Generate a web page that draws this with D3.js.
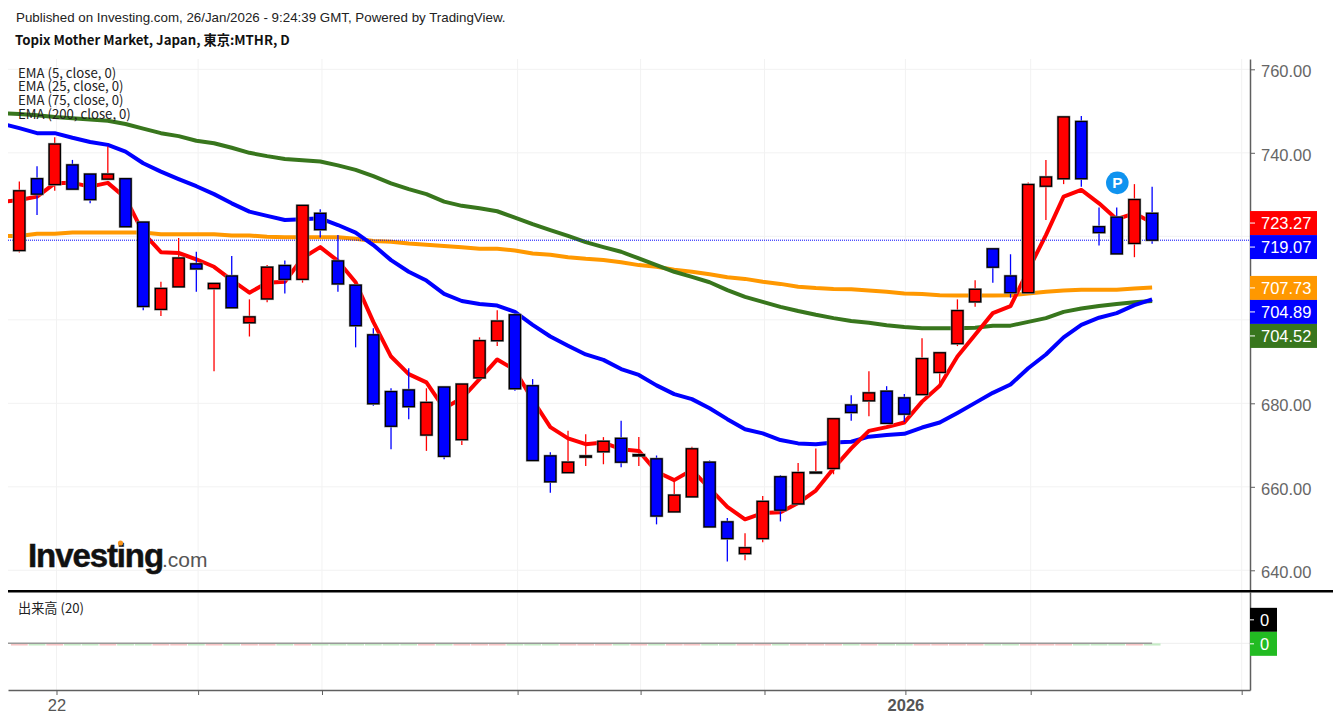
<!DOCTYPE html>
<html lang="en">
<head>
<meta charset="utf-8">
<script src="https://d3js.org/d3.v7.min.js"></script>
<style>
  body { margin: 0; background: #fff; }
  svg { display: block; }
  text { font-family: "Liberation Sans", Arial, sans-serif; }
  .cjk { font-family: "Noto Sans CJK JP", "Noto Sans", sans-serif; }
</style>
</head>
<body>
<div id="chart"></div>
<script>
// daily candles, oldest first
const opens = [716.6,733.8,732.4,737.1,734.9,733.7,733.8,723.4,702.5,707.9,713.4,707.5,710.5,699.3,705.0,713.0,709.7,725.5,714.1,708.3,696.4,682.8,683.2,672.4,683.9,671.3,686.1,695.0,701.2,684.2,667.4,663.4,667.1,668.4,671.6,667.4,666.7,654.0,657.6,665.9,651.6,644.0,647.6,662.4,655.9,663.3,664.4,679.6,680.6,682.9,681.3,682.1,687.4,694.3,704.3,717.0,710.5,706.5,732.0,733.8,747.5,722.3,724.6,718.3,725.5];
const highs = [733.1,736.8,743.7,738.3,735.1,741.5,733.8,723.4,709.1,719.6,716.3,708.7,715.3,704.9,713.1,714.2,727.4,726.5,720.3,708.3,698.0,683.6,688.4,683.6,684.1,684.7,695.8,702.3,701.2,685.8,668.3,673.4,672.6,671.9,675.8,671.9,667.5,661.2,669.6,666.3,652.5,648.9,657.8,662.8,665.7,669.2,676.3,681.9,687.7,684.1,682.2,695.6,692.1,704.9,709.5,717.1,715.7,732.9,738.3,748.6,748.8,726.9,726.9,732.5,731.9];
const lows = [716.1,725.1,730.9,731.3,727.9,733.7,722.3,702.3,700.9,707.9,706.7,687.7,702.9,696.0,704.2,706.3,708.9,719.7,706.7,693.4,679.4,669.0,676.2,668.6,666.6,670.0,686.1,693.7,683.0,666.3,658.6,663.4,665.0,665.4,664.7,665.0,651.0,654.0,657.6,650.4,642.1,642.4,646.7,651.7,655.9,663.3,663.0,675.8,676.9,675.2,675.5,682.1,684.4,693.7,703.1,708.9,705.3,706.5,723.9,732.5,731.9,717.8,715.8,715.0,718.2];
const closes = [730.9,730.1,742.1,731.3,728.8,734.9,722.3,703.2,707.5,714.8,712.2,708.7,702.9,700.7,712.6,709.7,727.4,721.6,708.6,698.6,679.9,674.5,679.2,680.2,667.3,684.6,695.0,699.7,683.5,666.3,661.2,665.9,667.4,670.9,665.9,667.7,653.0,658.0,669.1,650.4,647.6,645.4,656.5,654.4,663.4,663.5,676.3,677.8,682.5,675.2,677.4,690.7,692.1,702.2,707.3,712.6,706.5,732.4,734.2,748.6,733.8,720.9,715.8,728.8,719.07];

// EMA series start one bar before the first candle, they run off the left edge
const ema5 = [728.2,728.7,729.5,732.7,732.8,731.9,732.8,729.2,720.8,716.2,716.0,714.5,712.7,709.5,706.5,708.9,709.1,714.8,717.4,714.1,709.0,699.5,691.2,687.0,685.0,678.8,681.2,685.8,690.5,688.0,680.8,674.3,671.6,670.2,670.6,669.0,668.6,663.6,661.6,664.0,659.6,655.2,652.2,653.7,653.9,656.1,659.1,664.4,669.2,673.4,674.3,675.4,680.4,684.2,691.2,696.4,701.6,703.3,711.9,720.3,729.5,731.1,727.9,724.1,725.5,723.27];
const ema25 = [747.0,745.9,744.7,744.7,743.6,742.6,741.9,740.3,737.5,735.5,733.7,732.0,730.1,727.9,725.9,724.9,723.9,724.1,724.3,722.7,720.9,717.9,714.3,711.5,709.4,706.2,704.5,703.8,703.4,701.9,698.8,696.0,693.8,691.7,690.4,688.2,686.8,684.3,682.2,681.0,678.8,676.2,673.8,672.8,671.2,670.4,670.2,670.6,670.8,672.0,672.4,672.7,674.2,675.4,677.7,680.1,682.5,684.5,688.4,691.7,695.8,698.8,700.5,701.6,703.5,704.89];
const ema75 = [720.1,720.1,720.6,720.6,720.9,720.9,720.9,720.9,720.9,720.5,720.5,720.5,720.5,720.2,720.2,719.9,719.8,719.8,719.8,719.8,719.4,718.9,718.7,718.3,718.0,717.7,717.4,717.0,717.0,716.6,715.9,715.6,715.0,714.6,714.3,713.8,713.1,712.7,712.0,711.5,710.9,710.2,709.8,709.1,708.6,707.9,707.6,707.4,707.3,707.0,706.7,706.3,706.2,705.9,705.8,705.8,705.8,705.9,706.3,706.7,707.0,707.2,707.2,707.2,707.5,707.73];
const ema200 = [749.5,749.3,749.0,748.6,748.3,748.0,747.7,746.9,745.8,744.7,744.0,742.9,742.3,741.2,740.0,739.2,738.5,738.2,737.9,737.0,735.9,734.4,732.7,731.3,730.1,728.3,727.3,726.7,726.0,724.5,722.9,721.5,720.1,718.6,717.4,716.3,714.7,713.1,711.5,710.3,709.0,707.1,705.5,704.3,703.1,702.1,701.2,700.4,699.7,699.3,698.7,698.3,698.0,698.0,698.0,698.1,698.6,698.6,699.5,700.4,701.9,702.7,703.3,703.8,704.2,704.52];

// volume is reported as zero for this index, both the bars and its average
const volumes = [0,0,0,0,0,0,0,0,0,0,0,0,0,0,0,0,0,0,0,0,0,0,0,0,0,0,0,0,0,0,0,0,0,0,0,0,0,0,0,0,0,0,0,0,0,0,0,0,0,0,0,0,0,0,0,0,0,0,0,0,0,0,0,0,0];
const volumeAvg = [0,0,0,0,0,0,0,0,0,0,0,0,0,0,0,0,0,0,0,0,0,0,0,0,0,0,0,0,0,0,0,0,0,0,0,0,0,0,0,0,0,0,0,0,0,0,0,0,0,0,0,0,0,0,0,0,0,0,0,0,0,0,0,0,0,0];

const priceTicks = [640,660,680,700,720,740,760];
const priceTickLabels = ["640.00","660.00","680.00","","","740.00","760.00"]; // 700 and 720 sit behind the value boxes
const xTickBars = [2.1,10.1,17.1,28.15,35.1,42.1,50.06,57.14,69.06];
const xTickLabels = ["22","","","","","","2026","",""];
const legendLabels = ["EMA (5, close, 0)","EMA (25, close, 0)","EMA (75, close, 0)","EMA (200, close, 0)"];

const lastValues = [723.27,719.07,707.73,704.89,704.52];
const lastColors = ["#ff0000","#0000ff","#ff9800","#0000ff","#38761d"];
const lastPrice = 719.07;
const pivotBar = 62, pivotPrice = 732.8;

const svgWidth = 1333, svgHeight = 723;
const plotLeft = 8, plotRight = 1250, plotTop = 59, priceBottom = 590, volBottom = 690;

const svg = d3.select("#chart").append("svg").attr("width", svgWidth).attr("height", svgHeight);

const x = d3.scaleLinear().domain([-0.64, 69.53]).range([plotLeft, plotRight]);
const y = d3.scaleLinear().domain([635.28, 762.47]).range([priceBottom, plotTop]);
const yVol = d3.scaleLinear().domain([-1, 1.1]).range([volBottom, 592]);

svg.append("clipPath").attr("id", "plot").append("rect")
   .attr("x", plotLeft).attr("y", plotTop).attr("width", plotRight - plotLeft).attr("height", priceBottom - plotTop);
svg.append("clipPath").attr("id", "volplot").append("rect")
   .attr("x", plotLeft).attr("y", 592).attr("width", plotRight - plotLeft).attr("height", volBottom - 592);

// grid
const gridColor = "#f2f2f2";
svg.append("g").selectAll("line").data(xTickBars).enter().append("line")
   .attr("x1", d => x(d)).attr("x2", d => x(d)).attr("y1", plotTop).attr("y2", volBottom)
   .attr("stroke", gridColor);
svg.append("g").selectAll("line").data(priceTicks).enter().append("line")
   .attr("x1", plotLeft).attr("x2", plotRight).attr("y1", d => y(d)).attr("y2", d => y(d))
   .attr("stroke", gridColor);

// EMA lines, orange at the bottom and red on top
const emaLine = d3.line().x((d, i) => x(i - 1)).y(d => y(d));
const plot = svg.append("g").attr("clip-path", "url(#plot)");
[[ema75, "#ff9800"], [ema200, "#38761d"], [ema25, "#0000ff"], [ema5, "#ff0000"]].forEach(s => {
  plot.append("path").datum(s[0])
      .attr("d", emaLine).attr("fill", "none").attr("stroke", s[1])
      .attr("stroke-width", 4).attr("stroke-linejoin", "round");
});

// last price line
plot.append("line")
    .attr("x1", plotLeft).attr("x2", plotRight).attr("y1", y(lastPrice)).attr("y2", y(lastPrice))
    .attr("stroke", "#0000ff").attr("stroke-width", 1).attr("stroke-dasharray", "1 1");

// candles
const candles = plot.selectAll("g.candle").data(d3.range(closes.length)).enter()
  .append("g").attr("class", "candle");
const candleColor = i => closes[i] >= opens[i] ? "#ff0000" : "#0000ff";
const bodyTop = i => y(Math.max(opens[i], closes[i]));
const bodyHeight = i => Math.abs(y(opens[i]) - y(closes[i]));

candles.append("line")
  .attr("x1", i => x(i)).attr("x2", i => x(i))
  .attr("y1", i => y(highs[i])).attr("y2", i => y(lows[i]))
  .attr("stroke", candleColor).attr("stroke-width", 1.3);
candles.append("rect")
  .attr("x", i => x(i) - 5.6).attr("width", 11.2)
  .attr("y", bodyTop).attr("height", bodyHeight)
  .attr("fill", "none").attr("stroke", "#999").attr("stroke-width", 2.4);
candles.append("rect")
  .attr("x", i => x(i) - 5.6).attr("width", 11.2)
  .attr("y", bodyTop).attr("height", bodyHeight)
  .attr("fill", candleColor).attr("stroke", "#000").attr("stroke-width", 1.3);

// pivot marker
svg.append("circle").attr("cx", x(pivotBar) + 0.6).attr("cy", y(pivotPrice)).attr("r", 11.3).attr("fill", "#0f93ef");
svg.append("text").attr("x", x(pivotBar) + 0.6).attr("y", y(pivotPrice) + 5.5)
   .attr("text-anchor", "middle").attr("font-size", 15.5).attr("font-weight", "bold").attr("fill", "#fff").text("P");

// volume pane
const vol = svg.append("g").attr("clip-path", "url(#volplot)");
vol.append("line").attr("x1", plotLeft).attr("x2", plotRight).attr("y1", yVol(0)).attr("y2", yVol(0)).attr("stroke", "#eee");
vol.selectAll("rect").data(volumes).enter().append("rect")
   .attr("x", (d, i) => x(i) - 8.4).attr("width", 16.8)
   .attr("y", d => yVol(d)).attr("height", 2.2)
   .attr("fill", (d, i) => closes[i] >= opens[i] ? "#f7c4c4" : "#c6ebc6");
vol.append("path").datum(volumeAvg)
   .attr("d", d3.line().x((d, i) => x(i - 1)).y(d => yVol(d)))
   .attr("fill", "none").attr("stroke", "#999").attr("stroke-width", 1.5);

// axes
const axisColor = "#5f5f5f", labelColor = "#666";
function styleAxis(g) {
  g.select(".domain").attr("stroke", axisColor).attr("stroke-width", 1.5);
  g.selectAll(".tick line").attr("stroke", axisColor);
  g.selectAll(".tick text").attr("fill", labelColor).attr("font-size", 16.5)
   .attr("font-family", '"Liberation Sans", Arial, sans-serif');
}
const priceAxis = svg.append("g").attr("transform", "translate(" + plotRight + ",0)")
  .call(d3.axisRight(y).tickValues(priceTicks).tickFormat((d, i) => priceTickLabels[i]).tickSize(5).tickSizeOuter(0).tickPadding(6));
styleAxis(priceAxis);
priceAxis.selectAll(".tick text").attr("dy", "0.45em");
const volAxis = svg.append("g").attr("transform", "translate(" + plotRight + ",0)")
  .call(d3.axisRight(yVol).tickValues([]).tickSizeOuter(0));
styleAxis(volAxis);
const timeAxis = svg.append("g").attr("transform", "translate(0," + volBottom + ")")
  .call(d3.axisBottom(x).tickValues(xTickBars).tickFormat((d, i) => xTickLabels[i]).tickSize(5).tickSizeOuter(0).tickPadding(4));
styleAxis(timeAxis);
timeAxis.selectAll(".tick text").attr("fill", "#555")
  .attr("font-weight", (d, i) => xTickLabels[i] === "2026" ? "bold" : "normal");

// pane separator
svg.append("line").attr("x1", plotLeft).attr("x2", svgWidth).attr("y1", 591.3).attr("y2", 591.3)
   .attr("stroke", "#000").attr("stroke-width", 2.4);

// last value boxes, pushed down when they would overlap
let prevCentre = -100;
lastValues.forEach((v, i) => {
  const centre = Math.max(y(v) + 0.4, prevCentre + 24);
  prevCentre = centre;
  svg.append("rect").attr("x", plotRight).attr("y", centre - 12).attr("width", 67).attr("height", 24).attr("fill", lastColors[i]);
  svg.append("line").attr("x1", plotRight).attr("x2", plotRight + 5).attr("y1", centre).attr("y2", centre).attr("stroke", "#fff");
  svg.append("text").attr("x", plotRight + 11).attr("y", centre + 6.2).attr("font-size", 16.5).attr("fill", "#fff")
     .text(d3.format(".2f")(v));
});

// volume value boxes
const volCentre = yVol(0) + 0.5;
[[volCentre - 24, "#000"], [volCentre, "#22bb22"]].forEach(b => {
  svg.append("rect").attr("x", plotRight).attr("y", b[0] - 12).attr("width", 27).attr("height", 24).attr("fill", b[1]);
  svg.append("line").attr("x1", plotRight).attr("x2", plotRight + 4).attr("y1", b[0]).attr("y2", b[0]).attr("stroke", "#fff");
  svg.append("text").attr("x", plotRight + 10).attr("y", b[0] + 6.2).attr("font-size", 16.5).attr("fill", "#fff").text("0");
});

// header and legends
svg.append("text").attr("x", 16).attr("y", 22).attr("font-size", 13.33).attr("fill", "#222")
   .text("Published on Investing.com, 26/Jan/2026 - 9:24:39 GMT, Powered by TradingView.");
svg.append("text").attr("class", "cjk").attr("x", 15).attr("y", 45).attr("font-size", 13.25).attr("font-weight", "bold").attr("fill", "#111")
   .text("Topix Mother Market, Japan, 東京:MTHR, D");
svg.append("g").selectAll("text").data(legendLabels).enter().append("text")
   .attr("class", "cjk").attr("x", 18).attr("y", (d, i) => 77.5 + i * 13.7)
   .attr("font-size", 13.2).attr("fill", "#222").text(d => d);
svg.append("text").attr("class", "cjk").attr("x", 18).attr("y", 613).attr("font-size", 13.2).attr("fill", "#222").text("出来高 (20)");

// watermark
svg.append("text").attr("x", 28).attr("y", 566.5).attr("font-size", 33).attr("font-weight", "bold")
   .attr("letter-spacing", -1.1).attr("fill", "#111").attr("stroke", "#111").attr("stroke-width", 0.5).text("Investing");
svg.append("text").attr("x", 162).attr("y", 566.5).attr("font-size", 21).attr("fill", "#555").text(".com");
svg.append("circle").attr("cx", 120.5).attr("cy", 543).attr("r", 2.6).attr("fill", "#f7941d");
</script>
</body>
</html>
